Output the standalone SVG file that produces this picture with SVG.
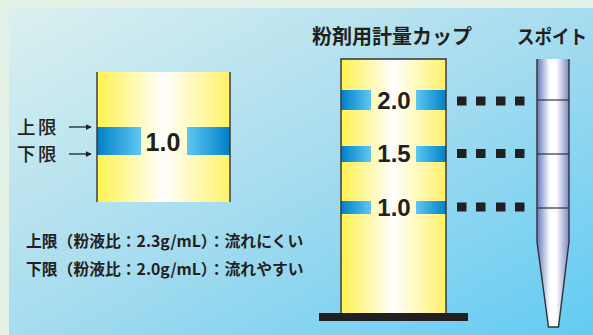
<svg xmlns="http://www.w3.org/2000/svg" width="593" height="335" viewBox="0 0 593 335">
  <defs>
    <linearGradient id="panel" x1="0" y1="0" x2="1" y2="1">
      <stop offset="0" stop-color="#dbf0ef"/>
      <stop offset="0.5" stop-color="#a6dcef"/>
      <stop offset="1" stop-color="#62cbf3"/>
    </linearGradient>
    <linearGradient id="liquid" x1="0" y1="0" x2="1" y2="0">
      <stop offset="0" stop-color="#fff24f"/>
      <stop offset="0.5" stop-color="#ffffff"/>
      <stop offset="1" stop-color="#fff168"/>
    </linearGradient>
    <linearGradient id="bandL" x1="0" y1="0" x2="1" y2="0">
      <stop offset="0" stop-color="#0080c8"/>
      <stop offset="1" stop-color="#5ec7f1"/>
    </linearGradient>
    <linearGradient id="bandR" x1="0" y1="0" x2="1" y2="0">
      <stop offset="0" stop-color="#5ec7f1"/>
      <stop offset="1" stop-color="#0080c8"/>
    </linearGradient>
    <linearGradient id="tube" x1="0" y1="0" x2="1" y2="0">
      <stop offset="0" stop-color="#6676bd"/>
      <stop offset="0.4" stop-color="#ffffff"/>
      <stop offset="0.6" stop-color="#ffffff"/>
      <stop offset="1" stop-color="#7c89c6"/>
    </linearGradient>
    <marker id="arrow" viewBox="0 0 8 8" refX="7" refY="4" markerWidth="6" markerHeight="6" markerUnits="userSpaceOnUse" orient="auto">
      <path d="M0,0 L8,4 L0,8 Z" fill="#231f20"/>
    </marker>
    <style>
      .jp { font-family: "Noto Sans CJK JP", "Noto Sans", sans-serif; fill: #231f20; }
      .num { font-family: "Liberation Sans", Arial, sans-serif; font-weight: bold; fill: #231f20; text-anchor: middle; }
      .edge { stroke: #333333; stroke-width: 1.4; fill: none; }
      .dot { fill: #231f20; }
      .tick { stroke: #333333; stroke-width: 1.2; }
    </style>
  </defs>

  <!-- backdrop -->
  <rect x="0" y="0" width="593" height="335" fill="#e3f1e6"/>
  <rect x="9" y="8" width="584" height="327" fill="url(#panel)"/>

  <!-- single-level sample column -->
  <g id="sample-column">
    <rect x="97" y="72" width="133" height="130" fill="url(#liquid)"/>
    <rect x="97" y="127" width="44" height="28" fill="url(#bandL)"/>
    <rect x="187" y="127" width="43" height="28" fill="url(#bandR)"/>
    <line class="edge" x1="97" y1="72" x2="97" y2="202"/>
    <line class="edge" x1="230" y1="72" x2="230" y2="202"/>
    <text class="num" x="163" y="151" font-size="25">1.0</text>
  </g>

  <g id="limit-labels">
    <text class="jp" x="17" y="134" font-size="18.5" font-weight="500" letter-spacing="2.5">上限</text>
    <text class="jp" x="17" y="161" font-size="18.5" font-weight="500" letter-spacing="2.5">下限</text>
  </g>

  <!-- measuring cup -->
  <g id="measuring-cup">
    <rect x="341" y="59" width="105" height="254" fill="url(#liquid)"/>
    <rect x="341" y="90" width="30" height="20" fill="url(#bandL)"/>
    <rect x="416" y="90" width="30" height="20" fill="url(#bandR)"/>
    <rect x="341" y="146" width="30" height="16" fill="url(#bandL)"/>
    <rect x="416" y="146" width="30" height="16" fill="url(#bandR)"/>
    <rect x="341" y="201" width="30" height="13" fill="url(#bandL)"/>
    <rect x="416" y="201" width="30" height="13" fill="url(#bandR)"/>
    <path class="edge" d="M341,313 V59 H446 V313"/>
    <rect x="319" y="313" width="149" height="8" fill="#231f20"/>
    <text class="num" x="394" y="109" font-size="24">2.0</text>
    <text class="num" x="394" y="162" font-size="24">1.5</text>
    <text class="num" x="394" y="216" font-size="24">1.0</text>
    <text class="jp" x="312" y="44" font-size="20" font-weight="bold">粉剤用計量カップ</text>
  </g>

  <!-- dropper -->
  <g id="dropper">
    <path d="M537,59 H569 V242 L558.5,327 H548.5 L537,242 Z" fill="url(#tube)"/>
    <path class="edge" d="M537,59 V242 L548.5,327 H558.5 L569,242 V59"/>
    <line class="tick" x1="537" y1="100" x2="569" y2="100"/>
    <line class="tick" x1="537" y1="154" x2="569" y2="154"/>
    <line class="tick" x1="537" y1="208" x2="569" y2="208"/>
    <text class="jp" x="517" y="44" font-size="19" font-weight="bold" textLength="70" lengthAdjust="spacingAndGlyphs">スポイト</text>
  </g>

  <!-- connectors -->
  <g id="connectors">
    <line x1="69" y1="127" x2="91" y2="127" stroke="#231f20" stroke-width="1.3" marker-end="url(#arrow)"/>
    <line x1="69" y1="154" x2="91" y2="154" stroke="#231f20" stroke-width="1.3" marker-end="url(#arrow)"/>
    <g id="dots-20">
      <rect class="dot" x="457" y="96.5" width="9.5" height="9"/>
      <rect class="dot" x="476" y="96.5" width="9.5" height="9"/>
      <rect class="dot" x="496" y="96.5" width="9.5" height="9"/>
      <rect class="dot" x="515" y="96.5" width="9.5" height="9"/>
    </g>
    <g id="dots-15">
      <rect class="dot" x="457" y="149" width="9.5" height="9"/>
      <rect class="dot" x="476" y="149" width="9.5" height="9"/>
      <rect class="dot" x="496" y="149" width="9.5" height="9"/>
      <rect class="dot" x="515" y="149" width="9.5" height="9"/>
    </g>
    <g id="dots-10">
      <rect class="dot" x="457" y="202.5" width="9.5" height="9"/>
      <rect class="dot" x="476" y="202.5" width="9.5" height="9"/>
      <rect class="dot" x="496" y="202.5" width="9.5" height="9"/>
      <rect class="dot" x="515" y="202.5" width="9.5" height="9"/>
    </g>
  </g>

  <!-- notes -->
  <g id="notes">
    <text class="jp" x="26" y="247" font-size="15.8" font-weight="bold">上限（粉液比：2.3g/mL）：流れにくい</text>
    <text class="jp" x="26" y="275" font-size="15.8" font-weight="bold">下限（粉液比：2.0g/mL）：流れやすい</text>
  </g>
</svg>
